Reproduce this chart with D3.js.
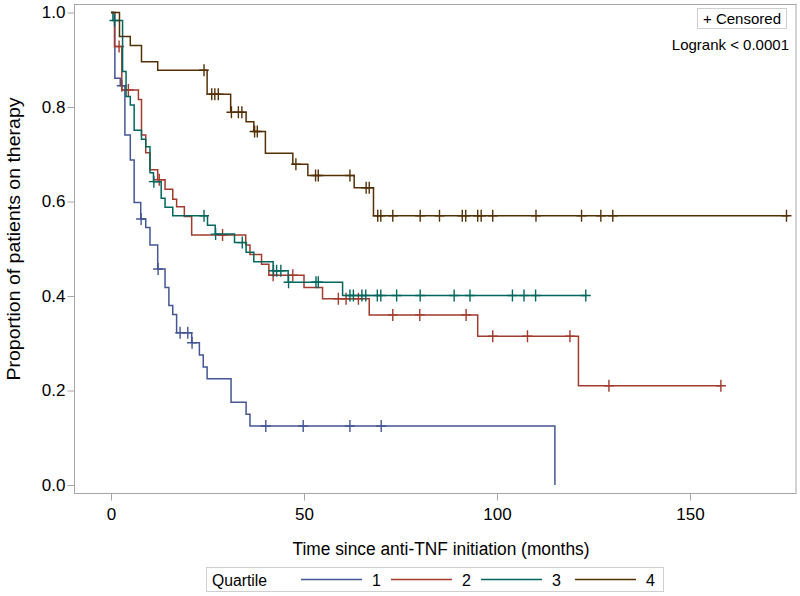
<!DOCTYPE html>
<html>
<head>
<meta charset="utf-8">
<script src="https://cdn.jsdelivr.net/npm/d3@7"></script>
<style>
  html, body { margin: 0; padding: 0; background: #fff; }
  svg { display: block; font-family: "Liberation Sans", Arial, sans-serif; }
</style>
</head>
<body>
<svg id="chart" width="800" height="596"></svg>
<script>
// ---------- data ----------
const groupNames = ["1", "2", "3", "4"];
const groupColors = ["#445694", "#A23A2E", "#01665E", "#543005"];

// Quartile 1
const q1Times = [0, 1.0, 2.4, 3.6, 5.0, 6.0, 7.7, 9.0, 10.1, 12.1, 14.0, 15.0, 16.0, 17.0, 20.9, 22.9, 23.9, 24.9, 31.1, 35.0, 36.0, 115];
const q1Surv  = [1, 0.861, 0.845, 0.741, 0.688, 0.598, 0.563, 0.545, 0.508, 0.457, 0.418, 0.380, 0.361, 0.322, 0.301, 0.275, 0.250, 0.225, 0.175, 0.150, 0.125, 0];
const q1End = 115;
const q1Censor = [2.8, 7.8, 12.2, 17.9, 19.9, 21.0, 40.1, 49.8, 61.9, 70.0];

// Quartile 2
const q2Times = [0, 0.9, 2.8, 7.1, 7.9, 9.0, 10.1, 12.1, 14.0, 16.0, 17.0, 19.0, 20.9, 34.9, 36.0, 39.0, 40.9, 50.0, 54.8, 66.9, 95.0, 121.1];
const q2Surv  = [1, 0.928, 0.836, 0.816, 0.741, 0.703, 0.667, 0.646, 0.626, 0.605, 0.589, 0.568, 0.529, 0.508, 0.488, 0.467, 0.444, 0.418, 0.394, 0.360, 0.315, 0.210];
const q2End = 158;
const q2Censor = [2.1, 4.5, 12.5, 28.9, 42.0, 47.1, 58.9, 60.9, 64.1, 73.0, 80.0, 92.0, 98.9, 107.9, 118.9, 129.0, 158.0];

// Quartile 3
const q3Times = [0, 0.5, 3.0, 3.9, 5.0, 6.0, 7.9, 9.0, 10.1, 11.0, 13.0, 14.0, 16.0, 25.0, 27.0, 32.0, 35.0, 37.0, 42.0, 45.9, 60.0];
const q3Surv  = [1, 0.983, 0.875, 0.822, 0.804, 0.751, 0.732, 0.716, 0.661, 0.642, 0.607, 0.588, 0.570, 0.550, 0.531, 0.513, 0.4925, 0.4725, 0.4535, 0.429, 0.401];
const q3End = 123.3;
const q3Censor = [0.9, 11.1, 24.1, 27.1, 34.0, 42.1, 42.9, 44.0, 46.0, 53.1, 53.7, 61.9, 62.8, 65.0, 66.0, 69.0, 69.9, 74.0, 80.1, 88.9, 93.0, 104.0, 107.0, 110.0, 123.0];

// Quartile 4
const q4Times = [0, 2.2, 5.0, 7.9, 12.1, 24.9, 31.0, 35.0, 37.0, 40.0, 47.1, 51.0, 63.0, 68.0];
const q4Surv  = [1, 0.949, 0.930, 0.896, 0.878, 0.827, 0.789, 0.769, 0.748, 0.702, 0.679, 0.655, 0.629, 0.570];
const q4End = 175.5;
const q4Censor = [24.1, 26.1, 26.9, 27.8, 31.2, 33.0, 33.9, 37.2, 37.9, 47.9, 53.0, 53.7, 61.9, 66.1, 66.9, 69.1, 69.9, 73.0, 80.1, 85.1, 91.0, 91.9, 95.0, 95.9, 98.9, 110.1, 121.9, 126.9, 130.0, 175.0];

const xTicks = [0, 50, 100, 150];
const yTicks = [0.0, 0.2, 0.4, 0.6, 0.8, 1.0];

const xTitle = "Time since anti-TNF initiation (months)";
const yTitle = "Proportion of patients on therapy";
const legendTitle = "Quartile";
const censorLabel = "+ Censored";
const logrankLabel = "Logrank < 0.0001";

// ---------- build ----------
const series = [
  {times: q1Times, surv: q1Surv, end: q1End, censor: q1Censor},
  {times: q2Times, surv: q2Surv, end: q2End, censor: q2Censor},
  {times: q3Times, surv: q3Surv, end: q3End, censor: q3Censor},
  {times: q4Times, surv: q4Surv, end: q4End, censor: q4Censor}
];

const svg = d3.select("#chart");
const frame = {left: 74.5, right: 796, top: 4.5, bottom: 493.5};

const x = d3.scaleLinear().domain([0, 150]).range([111, 690]);
const y = d3.scaleLinear().domain([0, 1]).range([485, 12.5]);

const frameColor = "#a6a6a6";

// frame
svg.append("rect")
  .attr("x", frame.left).attr("y", frame.top)
  .attr("width", frame.right - frame.left).attr("height", frame.bottom - frame.top)
  .attr("fill", "#fff").attr("stroke", frameColor).attr("stroke-width", 1);

// axes
const xAxis = d3.axisBottom(x).tickValues(xTicks).tickFormat(d3.format("d")).tickSize(7).tickSizeOuter(0);
const gx = svg.append("g").attr("transform", `translate(0,${frame.bottom})`).call(xAxis);
gx.select(".domain").remove();
gx.selectAll(".tick line").attr("stroke", frameColor);
gx.selectAll(".tick text").attr("font-size", 17).attr("fill", "#000").attr("y", 10).attr("dy", "0.95em")
  .attr("font-family", "Liberation Sans, Arial, sans-serif");

const yAxis = d3.axisLeft(y).tickValues(yTicks).tickFormat(d3.format(".1f")).tickSize(7).tickSizeOuter(0);
const gy = svg.append("g").attr("transform", `translate(${frame.left},0)`).call(yAxis);
gy.select(".domain").remove();
gy.selectAll(".tick line").attr("stroke", frameColor);
gy.selectAll(".tick text").attr("font-size", 17).attr("fill", "#000").attr("x", -9)
  .attr("font-family", "Liberation Sans, Arial, sans-serif");

// titles
svg.append("text")
  .attr("x", 441).attr("y", 555)
  .attr("text-anchor", "middle").attr("font-size", 18).attr("fill", "#000")
  .attr("textLength", 297).attr("lengthAdjust", "spacingAndGlyphs")
  .text(xTitle);

svg.append("text")
  .attr("transform", `translate(20,239) rotate(-90)`)
  .attr("text-anchor", "middle").attr("font-size", 18).attr("fill", "#000")
  .attr("textLength", 283).attr("lengthAdjust", "spacingAndGlyphs")
  .text(yTitle);

// curves
svg.append("defs").append("clipPath").attr("id", "plotclip")
  .append("rect").attr("x", frame.left).attr("y", frame.top)
  .attr("width", frame.right - frame.left).attr("height", frame.bottom - frame.top);

const plot = svg.append("g").attr("clip-path", "url(#plotclip)");
const line = d3.line().x(d => x(d[0])).y(d => y(d[1])).curve(d3.curveStepAfter);

function survAt(s, t) {
  let v = s.surv[0];
  for (let i = 0; i < s.times.length; i++) {
    if (s.times[i] <= t) v = s.surv[i];
  }
  return v;
}

series.forEach((s, i) => {
  const pts = s.times.map((t, k) => [t, s.surv[k]]);
  const last = pts[pts.length - 1];
  if (s.end > last[0]) pts.push([s.end, last[1]]);
  plot.append("path")
    .attr("d", line(pts))
    .attr("fill", "none")
    .attr("stroke", groupColors[i])
    .attr("stroke-width", 1.5);
  const cg = plot.append("g");
  s.censor.forEach(t => {
    const cx = x(t), cy = y(survAt(s, t));
    cg.append("path")
      .attr("d", `M${cx - 5},${cy}H${cx + 5}M${cx},${cy - 6}V${cy + 6}`)
      .attr("stroke", groupColors[i]).attr("stroke-width", 1.4).attr("fill", "none");
  });
});

// censored inset
svg.append("rect")
  .attr("x", 697.5).attr("y", 8.5).attr("width", 89).attr("height", 20)
  .attr("fill", "#fff").attr("stroke", "#cfcfcf");
svg.append("text")
  .attr("x", 742).attr("y", 24).attr("text-anchor", "middle")
  .attr("font-size", 15).attr("fill", "#000").text(censorLabel);
svg.append("text")
  .attr("x", 789).attr("y", 50).attr("text-anchor", "end")
  .attr("font-size", 15).attr("fill", "#000")
  .text(logrankLabel);

// bottom legend
const lg = svg.append("g");
lg.append("rect")
  .attr("x", 206.5).attr("y", 567.5).attr("width", 457).attr("height", 24)
  .attr("fill", "#fff").attr("stroke", "#cfcfcf");
lg.append("text").attr("x", 212).attr("y", 586).attr("font-size", 16).attr("fill", "#000")
  .attr("textLength", 55).attr("lengthAdjust", "spacingAndGlyphs")
  .text(legendTitle);
const legendX = [301, 391, 481, 575];
groupNames.forEach((g, i) => {
  lg.append("line")
    .attr("x1", legendX[i]).attr("x2", legendX[i] + 61)
    .attr("y1", 579.5).attr("y2", 579.5)
    .attr("stroke", groupColors[i]).attr("stroke-width", 1.5);
  lg.append("text")
    .attr("x", legendX[i] + 71).attr("y", 586)
    .attr("font-size", 16).attr("fill", "#000").text(g);
});
</script>
</body>
</html>
